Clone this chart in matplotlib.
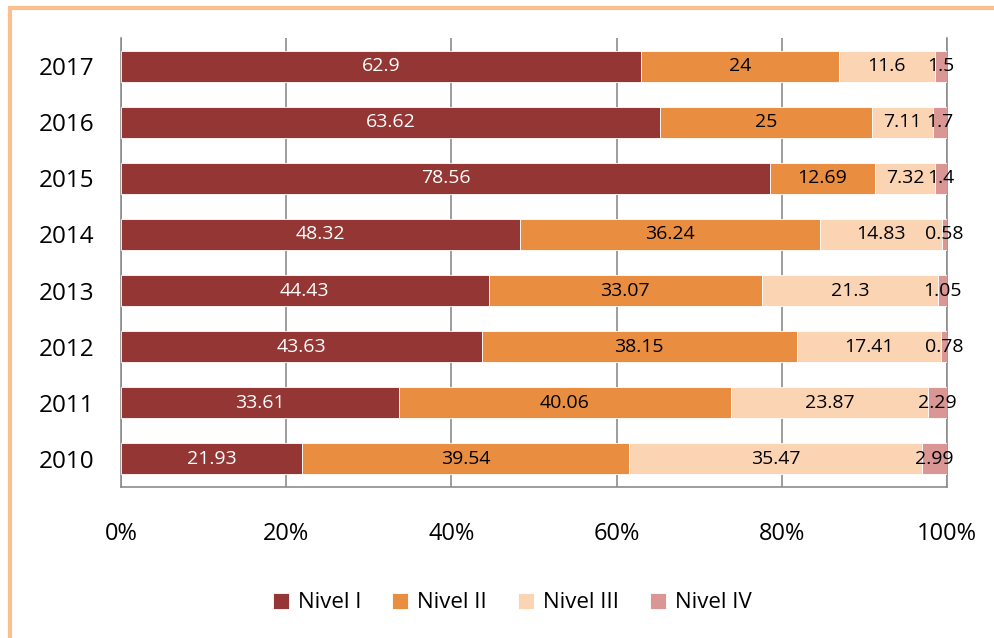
import matplotlib.pyplot as plt
import matplotlib.patches as patches
import numpy as np

plt.rcParams['font.family'] = ['Open Sans', 'DejaVu Sans']

# datos
anios = ['2010', '2011', '2012', '2013', '2014', '2015', '2016', '2017']
nivel1 = [21.93, 33.61, 43.63, 44.43, 48.32, 78.56, 63.62, 62.9]
nivel2 = [39.54, 40.06, 38.15, 33.07, 36.24, 12.69, 25, 24]
nivel3 = [35.47, 23.87, 17.41, 21.3, 14.83, 7.32, 7.11, 11.6]
nivel4 = [2.99, 2.29, 0.78, 1.05, 0.58, 1.4, 1.7, 1.5]
etiquetas = ['Nivel I', 'Nivel II', 'Nivel III', 'Nivel IV']
colores = ['#943634', '#E98D41', '#FBD4B4', '#D99694']
color_texto = ['white', 'black', 'black', 'black']

series = [nivel1, nivel2, nivel3, nivel4]
total = np.sum(series, axis=0)

fig = plt.figure(figsize=(9.95, 6.38), dpi=100)
ax = fig.add_axes([0.1216, 0.2367, 0.8302, 0.7037])

y = np.arange(len(anios))
izq = np.zeros(len(anios))
for s, lab, col, tc in zip(series, etiquetas, colores, color_texto):
    pct = np.array(s) / total * 100  # barras al 100%
    ax.barh(y, pct, left=izq, height=0.55, color=col, label=lab,
            edgecolor='white', linewidth=0.6, zorder=3)
    for i in range(len(anios)):
        ax.text(izq[i] + pct[i] / 2, y[i], '%g' % s[i], ha='center', va='center',
                fontsize=14, color=tc, zorder=4)
    izq += pct

ax.set_xlim(0, 100)
ax.set_ylim(-0.5, len(anios) - 0.5)
ax.set_yticks(y)
ax.set_yticklabels(anios, fontsize=17.5)
ax.set_xticks([0, 20, 40, 60, 80, 100])
ax.set_xticklabels(['0%', '20%', '40%', '60%', '80%', '100%'], fontsize=17)
ax.tick_params(axis='x', length=0, pad=25)
ax.tick_params(axis='y', length=0, pad=19)
ax.grid(axis='x', color='#8C8C8C', linewidth=1.2, zorder=0)
ax.spines['top'].set_visible(False)
for sp in ['left', 'right', 'bottom']:
    ax.spines[sp].set_color('#8C8C8C')
    ax.spines[sp].set_linewidth(1.2)

h, l = ax.get_legend_handles_labels()
fig.legend(h, l, loc='center', bbox_to_anchor=(0.515, 0.055), ncol=4, frameon=False,
           fontsize=16, handlelength=0.72, handleheight=0.72, columnspacing=1.4,
           handletextpad=0.4)

# borde naranja
borde = patches.Rectangle((10 / 995, -0.1), 1.2, 1 - 8 / 638 + 0.1,
                          transform=fig.transFigure, fill=False,
                          edgecolor='#FAC08F', linewidth=3)
fig.patches.append(borde)

plt.savefig('out.png', dpi=100)
